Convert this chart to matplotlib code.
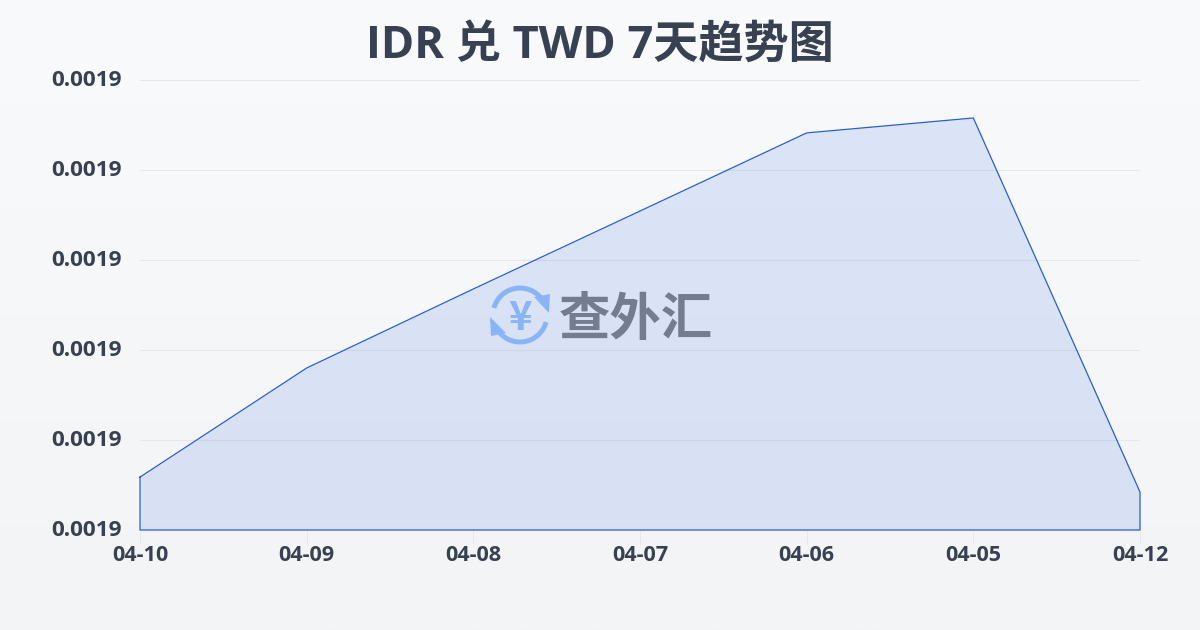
import numpy as np
import matplotlib
matplotlib.use("Agg")
import matplotlib.pyplot as plt
from matplotlib.patches import Arc, Polygon
from matplotlib.ticker import FormatStrFormatter
from matplotlib.transforms import ScaledTranslation

plt.rcParams['font.family'] = ['Open Sans', 'Noto Sans CJK SC', 'DejaVu Sans']

dates = ["04-10", "04-09", "04-08", "04-07", "04-06", "04-05", "04-12"]
rates = [0.00190294, 0.00190900, 0.00191339, 0.00191772, 0.00192206, 0.00192289, 0.00190211]
y_ticks = [0.001900, 0.001905, 0.001910, 0.001915, 0.001920, 0.001925]

TEXT = "#374151"
LINE = "#2a5fc9"
W, H = 1200, 630

fig = plt.figure(figsize=(W / 100, H / 100), dpi=100)

# page background, pale vertical gradient
bg = fig.add_axes([0, 0, 1, 1], zorder=0)
bg.imshow(np.linspace(0, 1, 256).reshape(-1, 1), aspect="auto", extent=[0, W, H, 0],
          cmap=matplotlib.colors.LinearSegmentedColormap.from_list("bg", ["#f9fafc", "#f3f4f6"]))
bg.axis("off")

ax = fig.add_axes([140 / W, 1 - 530 / H, 1000 / W, 450 / H], zorder=1)
ax.patch.set_alpha(0)
x = np.arange(len(dates))
ax.fill_between(x, rates, y_ticks[0], color="#3b74e8", alpha=0.15, lw=0, zorder=2)
ax.plot(list(x) + [x[-1], x[0], x[0]], rates + [y_ticks[0], y_ticks[0], rates[0]],
        color=LINE, lw=0.9, zorder=3, clip_on=False)

ax.set_xlim(x[0], x[-1])
ax.set_ylim(y_ticks[0], y_ticks[-1])
ax.set_xticks(x, dates)
ax.set_yticks(y_ticks)
ax.yaxis.set_major_formatter(FormatStrFormatter("%.4f"))
ax.grid(axis="y", color="#e5e7eb", lw=0.8, zorder=1)
for s in ax.spines.values():
    s.set_visible(False)
ax.tick_params(axis="y", length=0, pad=13, labelsize=16.2, labelcolor=TEXT)
ax.tick_params(axis="x", length=10, width=0.7, color="#e5e7eb", pad=0.5, labelsize=15.6, labelcolor=TEXT)
for lab in ax.get_xticklabels() + ax.get_yticklabels():
    lab.set_fontweight("bold")
up = ScaledTranslation(0, 2 / 100, fig.dpi_scale_trans)
for lab in ax.get_yticklabels():
    lab.set_transform(lab.get_transform() + up)

fig.text(0.5, 1 - 46 / H, "IDR 兑 TWD 7天趋势图", ha="center", va="center",
         fontsize=32.5, fontweight="bold", color=TEXT)

# watermark, in pixel coordinates
wm = fig.add_axes([0, 0, 1, 1], zorder=2)
wm.set_xlim(0, W)
wm.set_ylim(H, 0)
wm.axis("off")
BLUE = "#8ab4f4"
wm.add_patch(Arc((520, 315), 54, 54, theta1=15, theta2=155, color=BLUE, lw=3.6))
wm.add_patch(Arc((520, 315), 54, 54, theta1=195, theta2=335, color=BLUE, lw=3.6))
wm.add_patch(Polygon([[534, 297], [550, 294], [549, 313]], color=BLUE, lw=0))
wm.add_patch(Polygon([[490, 317], [506, 333], [491, 336]], color=BLUE, lw=0))
wm.text(520, 319, "¥", ha="center", va="center", fontsize=29, fontweight="bold", color=BLUE,
        family=['Noto Sans CJK SC', 'DejaVu Sans'])
wm.text(636, 320, "查外汇", ha="center", va="center", fontsize=37, fontweight="bold", color="#747d8f",
        family=['Noto Sans CJK SC', 'DejaVu Sans'])

fig.savefig("out.png", dpi=100)
